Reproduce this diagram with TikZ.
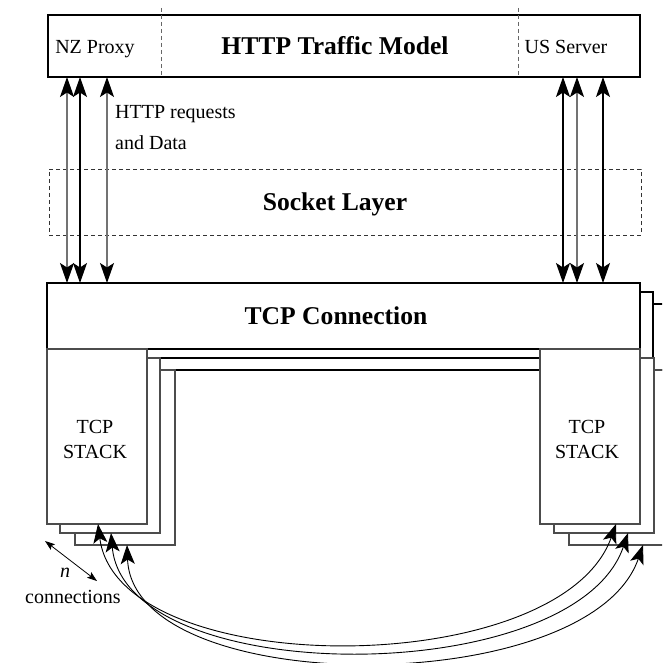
\documentclass[tikz,border=0pt]{standalone}
\usepackage{fontspec}
\setmainfont{Liberation Serif}
\usetikzlibrary{arrows.meta}
\begin{document}
\begin{tikzpicture}[x=1pt,y=-1pt,
  box/.style={draw=black, line width=1.4pt, fill=white, inner sep=0pt, outer sep=0pt, anchor=north west},
  stackbox/.style={draw=black!70, line width=1.1pt, fill=white, inner sep=0pt, outer sep=0pt, anchor=north west, minimum width=100pt, minimum height=175pt},
  tcpbox/.style={box, minimum width=593pt, minimum height=66pt},
  lbl/.style={font=\fontsize{20}{24}\selectfont, inner sep=0pt, anchor=base},
  ttl/.style={font=\bfseries\fontsize{25.6}{30}\selectfont, inner sep=0pt, anchor=base},
  divider/.style={draw=black!60, line width=1pt, dash pattern=on 4pt off 3pt},
  dbl/.style={{Stealth[length=20pt,width=14pt,inset=4.5pt,color=black]}-{Stealth[length=20pt,width=14pt,inset=4.5pt,color=black]}, line width=1.2pt},
  curvearr/.style={{Stealth[length=19pt,width=14pt,inset=4.5pt,color=black]}-{Stealth[length=19pt,width=14pt,inset=4.5pt,color=black]}, line width=0.9pt},
  smallarr/.style={{Stealth[length=10pt,width=7pt,inset=2pt]}-{Stealth[length=10pt,width=7pt,inset=2pt]}, line width=0.8pt}
]
\useasboundingbox (0,0) rectangle (662,663);
\clip (0,0) rectangle (662,663);

% top model box
\node[box, minimum width=592pt, minimum height=62pt] (top) at (48,15) {};
\draw[divider] (161,8) -- (161,0 |- top.south);
\draw[divider] (518,8) -- (518,0 |- top.south);
\node[lbl] (nz) at (95,53.6) {NZ Proxy};
\node[ttl] (http) at (335,54.5) {HTTP Traffic Model};
\node[lbl] (us) at (566,53.6) {US Server};

% socket layer
\node[draw=black!80, dash pattern=on 4pt off 3pt, line width=0.9pt, inner sep=0pt, outer sep=0pt, minimum width=592pt, minimum height=66pt, anchor=north west] (sock) at (49,169) {};
\node[ttl] (sl) at (335,210.5) {Socket Layer};

% TCP connection copies (back to front)
\node[tcpbox] (tcp3) at (75,304) {};
\node[stackbox] (ls3) at (75,370) {};
\node[stackbox] (rs3) at (569,370) {};

\node[tcpbox] (tcp2) at (60,292) {};
\node[stackbox] (ls2) at (60,358) {};
\node[stackbox] (rs2) at (554,358) {};

\node[tcpbox] (tcp1) at (47,283) {};
\node[stackbox] (ls1) at (47,349) {};
\node[stackbox] (rs1) at (540,349) {};

\node[ttl] (tc) at (336,324.5) {TCP Connection};
\node[font=\fontsize{20}{25}\selectfont, inner sep=0pt, align=center] (ts1) at (95,439) {TCP\\STACK};
\node[font=\fontsize{20}{25}\selectfont, inner sep=0pt, align=center] (ts2) at (587,439) {TCP\\STACK};

% vertical arrows
\draw[dbl, draw=black!55] (67,0 |- top.south) -- (67,0 |- tcp1.north);
\draw[dbl, draw=black] (80,0 |- top.south) -- (80,0 |- tcp1.north);
\draw[dbl, draw=black!55] (107,0 |- top.south) -- (107,0 |- tcp1.north);
\draw[dbl, draw=black] (563,0 |- top.south) -- (563,0 |- tcp1.north);
\draw[dbl, draw=black!55] (577,0 |- top.south) -- (577,0 |- tcp1.north);
\draw[dbl, draw=black] (603,0 |- top.south) -- (603,0 |- tcp1.north);

\node[font=\fontsize{20}{31}\selectfont, inner sep=0pt, align=left, anchor=north west] (req) at (115,105) {HTTP requests\\and Data};

% curved connections between stacks
\draw[curvearr] (98,0 |- ls1.south) .. controls (118,682) and (560,682) .. (616,0 |- rs1.south);
\draw[curvearr] (111,0 |- ls2.south) .. controls (125,690) and (575,690) .. (628,0 |- rs2.south);
\draw[curvearr] (127,0 |- ls3.south) .. controls (133,700) and (590,700) .. (643,0 |- rs3.south);

% n connections
\coordinate (na) at (45,541);
\coordinate (nb) at (97,581);
\draw[smallarr] (na) -- (nb);
\node[font=\itshape\fontsize{20}{24}\selectfont, inner sep=0pt, anchor=base] (n) at (65,577) {n};
\node[lbl] (cn) at (73,603) {connections};
\end{tikzpicture}
\end{document}
